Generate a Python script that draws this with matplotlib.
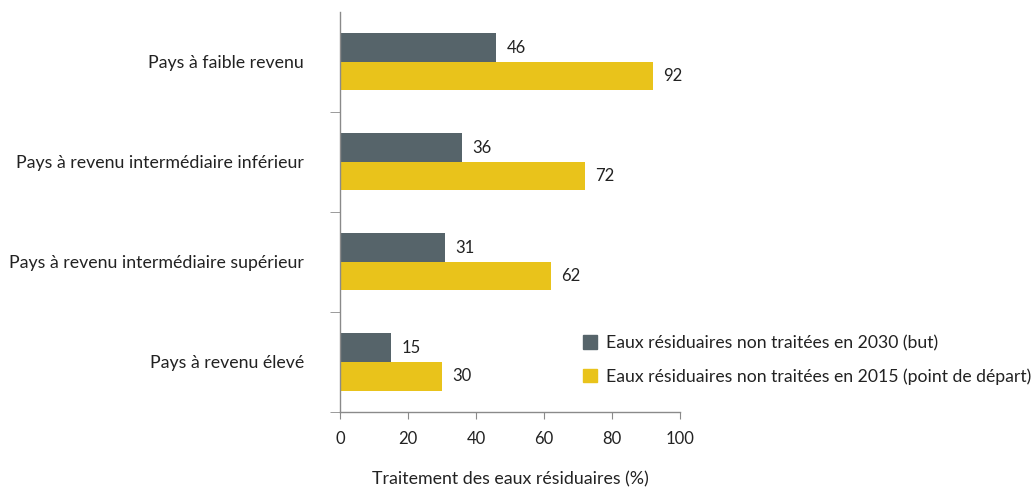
import matplotlib
matplotlib.use('Agg')
import matplotlib.pyplot as plt
from matplotlib.patches import Patch

categories = ['Pays à faible revenu',
              'Pays à revenu intermédiaire inférieur',
              'Pays à revenu intermédiaire supérieur',
              'Pays à revenu élevé']
goal_2030 = [46, 36, 31, 15]
base_2015 = [92, 72, 62, 30]
series_labels = ['Eaux résiduaires non traitées en 2030 (but)',
                 'Eaux résiduaires non traitées en 2015 (point de départ)']
x_ticks = [0, 20, 40, 60, 80, 100]
x_label = 'Traitement des eaux résiduaires (%)'

GRAY = '#56646a'
YELLOW = '#e9c31b'
AXIS = '#8a8a8a'
TEXT = '#222222'

plt.rcParams['font.family'] = ['Lato', 'DejaVu Sans']

fig = plt.figure(figsize=(10.36, 4.87), dpi=100)
ax = fig.add_axes([0.3282, 0.154, 0.3282, 0.8214])

h = 0.285
pos = list(range(len(categories)))
ax.barh([p - h / 2 for p in pos], goal_2030, height=h, color=GRAY)
ax.barh([p + h / 2 for p in pos], base_2015, height=h, color=YELLOW)

# value labels
for p, v in zip(pos, goal_2030):
    ax.text(v + 3, p - h / 2, str(v), va='center', ha='left', fontsize=12, color=TEXT)
for p, v in zip(pos, base_2015):
    ax.text(v + 3, p + h / 2, str(v), va='center', ha='left', fontsize=12, color=TEXT)

ax.set_xlim(0, 100)
ax.set_ylim(3.5, -0.5)
ax.set_xticks(x_ticks)
ax.set_xticklabels([str(t) for t in x_ticks], fontsize=12, color=TEXT)
ax.tick_params(axis='x', length=5, color=AXIS, pad=9)

# category labels as major ticks without marks, boundaries as minor ticks
ax.set_yticks(pos)
ax.set_yticklabels(categories, fontsize=12.8, color=TEXT)
ax.tick_params(axis='y', which='major', length=0, pad=26)
ax.set_yticks([0.5, 1.5, 2.5, 3.5], minor=True)
ax.tick_params(axis='y', which='minor', length=7, color=AXIS)

for s in ['top', 'right']:
    ax.spines[s].set_visible(False)
for s in ['left', 'bottom']:
    ax.spines[s].set_color(AXIS)
    ax.spines[s].set_linewidth(1)

ax.set_xlabel(x_label, fontsize=12.8, color=TEXT, labelpad=17)

handles = [Patch(color=GRAY), Patch(color=YELLOW)]
leg = ax.legend(handles, series_labels, loc='upper left', bbox_to_anchor=(0.714, 0.192),
                frameon=False, fontsize=12.7, handlelength=0.8, handleheight=0.8,
                handletextpad=0.5, labelspacing=0.95, borderaxespad=0, borderpad=0)
for t in leg.get_texts():
    t.set_color(TEXT)

fig.savefig('out.png', dpi=100)
